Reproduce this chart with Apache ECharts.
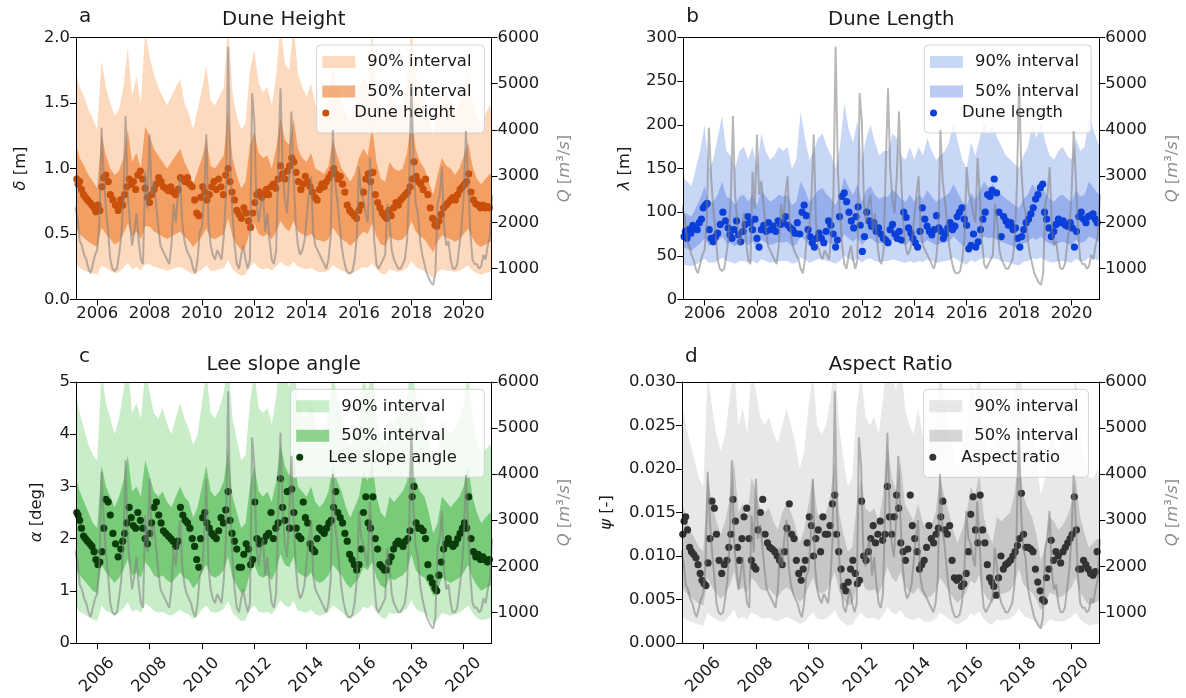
<!DOCTYPE html>
<html><head><meta charset="utf-8">
<script src="https://cdn.jsdelivr.net/npm/echarts@6/dist/echarts.min.js"></script>
<style>html,body{margin:0;padding:0;background:#fff}#c{width:1186px;height:698px}</style>
</head><body><div id="c"></div>
<script>
// ---------------- DATA ----------------
// Discharge Q [m3/s], monthly samples starting Jan 2005
const qStart = 2005.0;
const discharge = [
2200,2400,2300,2100,1600,1500,1300,1200,1000,900,1100,1300,
1400,2000,4050,3000,2300,1800,1200,1000,950,1000,1300,1700,
2500,4300,2600,2000,1500,1800,2200,1600,1200,1100,3100,2300,
3900,2600,2900,2400,1900,1500,1400,1300,1200,1100,1500,2400,
2000,2600,3000,2000,1600,1400,1300,1200,1000,900,1200,1800,
1900,2600,3900,2000,1500,1300,1200,1400,1300,1200,1700,2600,
5800,3200,2200,1500,1100,1000,1300,1500,1200,1000,1200,4800,
4200,2400,2000,2400,2600,1800,2200,1600,1200,1100,1400,3300,
4900,3200,2500,2200,3000,4400,3000,2000,1500,1300,1400,1600,
2100,2600,3000,1800,1500,1400,1300,1200,1100,1000,1200,1700,
4000,2900,2500,2000,1500,1200,1000,900,900,950,1200,1700,
3200,2600,2500,2200,2000,3400,2600,1600,1100,1000,1100,1200,
1300,2400,2000,1400,1200,1100,1000,1000,1100,1200,1600,2800,
5000,3200,2400,2200,1600,1300,1100,900,800,700,650,900,
2400,2600,3200,1900,1500,1600,1200,1000,1000,1100,1500,1900,
2600,3980,2900,1800,1200,1100,1100,1000,1050,1300,1200,1500,
1700,2600];

// Prediction intervals, sampled every two months from Jan 2005
const bandStart = 2005.0;
const heightHi90 = [1.80,1.75,1.62,1.55,1.45,1.38, 1.30,1.82,1.62,1.50,1.40,1.45, 1.62,1.92,1.55,1.70,1.50,2.05, 1.85,1.72,1.62,1.55,1.48,1.55, 1.62,1.68,1.50,1.42,1.30,1.45, 1.60,1.78,1.52,1.48,1.55,1.62, 2.10,1.58,1.40,1.30,1.35,1.75, 1.90,1.65,1.58,1.62,1.48,1.70, 2.10,1.80,1.75,2.10,1.72,1.62, 1.55,1.65,1.48,1.45,1.42,1.52, 1.78,1.62,1.50,1.42,1.35,1.45, 1.60,1.70,1.65,2.05,1.55,1.40, 1.38,1.58,1.50,1.45,1.50,1.68, 2.08,1.72,1.60,1.55,1.40,1.25, 1.45,1.62,1.55,1.50,1.42,1.50, 1.62,1.75,1.52,1.40,1.35,1.42, 1.48,1.45];
const heightHi50 = [1.22,1.20,1.08,1.02,0.95,0.90, 0.85,1.25,1.10,1.00,0.95,0.98, 1.08,1.30,1.05,1.12,1.00,1.32, 1.25,1.15,1.10,1.05,1.00,1.05, 1.10,1.15,1.05,0.98,0.88,0.98, 1.08,1.22,1.02,1.00,1.05,1.10, 1.45,1.08,0.95,0.85,0.90,1.18, 1.28,1.12,1.08,1.10,1.00,1.15, 1.38,1.22,1.18,1.38,1.15,1.08, 1.05,1.12,1.00,0.98,0.96,1.02, 1.22,1.10,1.00,0.95,0.90,0.96, 1.08,1.15,1.10,1.32,1.05,0.92, 0.90,1.05,1.00,0.98,1.00,1.12, 1.38,1.15,1.05,1.00,0.90,0.80, 0.95,1.08,1.02,1.00,0.95,1.00, 1.10,1.20,1.02,0.92,0.88,0.92, 0.96,0.95];
const heightLo50 = [0.55,0.56,0.50,0.47,0.44,0.42, 0.40,0.55,0.50,0.46,0.42,0.44, 0.50,0.58,0.48,0.52,0.46,0.56, 0.56,0.52,0.50,0.48,0.46,0.48, 0.50,0.52,0.48,0.45,0.40,0.44, 0.48,0.54,0.47,0.46,0.48,0.50, 0.62,0.48,0.42,0.38,0.40,0.52, 0.58,0.50,0.48,0.50,0.46,0.52, 0.60,0.55,0.52,0.60,0.52,0.50, 0.48,0.50,0.46,0.45,0.44,0.46, 0.55,0.50,0.46,0.44,0.41,0.44, 0.48,0.52,0.50,0.58,0.48,0.42, 0.41,0.48,0.46,0.45,0.46,0.50, 0.60,0.52,0.48,0.46,0.41,0.36, 0.44,0.49,0.47,0.46,0.44,0.46, 0.50,0.54,0.47,0.42,0.40,0.42, 0.44,0.43];
const heightLo90 = [0.26,0.27,0.24,0.22,0.21,0.20, 0.19,0.26,0.24,0.22,0.20,0.21, 0.24,0.28,0.23,0.25,0.22,0.27, 0.27,0.25,0.24,0.23,0.22,0.23, 0.24,0.25,0.23,0.21,0.19,0.21, 0.23,0.26,0.22,0.22,0.23,0.24, 0.30,0.23,0.20,0.18,0.19,0.25, 0.28,0.24,0.23,0.24,0.22,0.25, 0.29,0.26,0.25,0.29,0.25,0.24, 0.23,0.24,0.22,0.21,0.21,0.22, 0.26,0.24,0.22,0.21,0.19,0.21, 0.23,0.25,0.24,0.28,0.23,0.20, 0.19,0.23,0.22,0.21,0.22,0.24, 0.29,0.25,0.23,0.22,0.19,0.16, 0.21,0.23,0.22,0.22,0.21,0.22, 0.24,0.26,0.22,0.20,0.19,0.20, 0.21,0.21];

const lengthHi90 = [140,140,135,130,150,170, 200,150,160,185,210,170, 165,150,170,175,160,175, 150,190,170,160,165,175, 170,175,150,160,215,185, 160,170,185,190,175,165, 150,175,225,195,180,205, 160,185,200,180,165,170, 170,190,185,165,160,175, 160,175,165,185,170,160, 165,170,180,205,180,160, 150,180,165,185,205,190, 200,185,175,165,160,155, 150,165,175,200,185,205, 180,165,160,170,175,165, 160,185,170,175,210,195, 180,170];
const lengthHi50 = [105,100,98,95,105,115, 130,110,112,120,135,118, 115,108,118,120,112,120, 108,125,118,112,115,120, 118,120,108,112,135,125, 112,118,125,128,120,115, 108,120,140,128,120,132, 112,125,130,120,115,118, 118,125,122,115,112,120, 112,120,115,125,118,112, 115,118,122,132,122,112, 108,122,115,125,135,128, 132,125,120,115,112,108, 105,115,120,132,125,135, 122,115,112,118,120,115, 112,125,118,120,135,128, 122,118];
const lengthLo50 = [62,60,58,56,60,64, 70,62,63,66,72,65, 64,61,65,66,62,66, 61,68,65,62,64,66, 65,66,61,63,72,68, 62,65,68,70,66,64, 61,66,75,70,66,71, 62,68,70,66,64,65, 65,68,67,64,62,66, 62,66,64,68,65,62, 64,65,67,72,67,62, 60,67,64,68,72,70, 71,68,66,64,62,60, 58,64,66,71,68,72, 67,64,62,65,66,64, 62,68,65,66,72,70, 67,65];
const lengthLo90 = [42,40,39,38,40,43, 47,42,42,44,48,44, 43,41,44,44,42,44, 41,46,44,42,43,44, 44,44,41,42,48,46, 42,44,46,47,44,43, 41,44,50,47,44,47, 42,46,47,44,43,44, 44,46,45,43,42,44, 42,44,43,46,44,42, 43,44,45,48,45,42, 40,45,43,46,48,47, 47,46,44,43,42,40, 39,43,44,47,46,48, 45,43,42,44,44,43, 42,46,44,44,48,47, 45,44];

const leeHi90 = [4.9,4.8,4.4,4.1,3.8,3.6, 3.5,5.2,4.6,4.3,4.0,4.3, 4.8,5.3,4.4,4.6,4.3,5.2, 4.8,4.4,4.3,4.5,4.2,4.0, 4.3,4.6,4.3,4.1,3.8,4.0, 4.6,5.2,4.4,4.3,4.5,4.8, 5.4,4.3,3.9,3.5,3.6,4.6, 5.2,4.5,4.4,4.5,4.2,4.7, 5.5,5.2,4.9,5.4,4.6,4.4, 4.3,4.6,4.2,4.0,4.1,4.4, 5.2,4.7,4.4,4.0,3.8,4.0, 4.3,5.1,4.8,5.3,4.3,3.9, 3.8,4.3,4.2,4.4,4.4,4.7, 5.5,4.7,4.5,4.3,3.9,3.3, 3.6,4.3,4.1,4.0,4.1,4.3, 4.6,5.2,4.3,3.9,3.6,3.7, 3.8,3.7];
const leeHi50 = [3.2,3.2,2.9,2.7,2.5,2.3, 2.2,3.4,3.0,2.8,2.6,2.8, 3.1,3.6,2.9,3.0,2.8,3.5, 3.2,2.9,2.8,2.9,2.7,2.6, 2.8,3.0,2.8,2.7,2.4,2.6, 3.0,3.4,2.9,2.8,2.9,3.1, 3.7,2.8,2.5,2.2,2.3,3.0, 3.4,2.9,2.8,2.9,2.7,3.1, 3.8,3.4,3.2,3.7,3.0,2.9, 2.8,3.0,2.7,2.6,2.7,2.9, 3.4,3.1,2.9,2.6,2.4,2.6, 2.8,3.3,3.1,3.5,2.8,2.5, 2.4,2.8,2.7,2.8,2.9,3.1, 3.8,3.1,2.9,2.8,2.5,2.1, 2.3,2.8,2.7,2.6,2.7,2.8, 3.0,3.4,2.8,2.5,2.3,2.4, 2.5,2.4];
const leeLo50 = [1.45,1.45,1.3,1.2,1.1,1.0, 0.95,1.5,1.35,1.25,1.15,1.25, 1.4,1.6,1.3,1.35,1.25,1.55, 1.45,1.3,1.25,1.3,1.2,1.15, 1.25,1.35,1.25,1.2,1.05,1.15, 1.35,1.5,1.3,1.25,1.3,1.4, 1.65,1.25,1.1,0.95,1.0,1.35, 1.5,1.3,1.25,1.3,1.2,1.4, 1.7,1.5,1.45,1.65,1.35,1.3, 1.25,1.35,1.2,1.15,1.2,1.3, 1.5,1.4,1.3,1.15,1.05,1.15, 1.25,1.45,1.4,1.55,1.25,1.1, 1.05,1.25,1.2,1.25,1.3,1.4, 1.7,1.4,1.3,1.25,1.1,0.9, 1.0,1.25,1.2,1.15,1.2,1.25, 1.35,1.5,1.25,1.1,1.0,1.05, 1.1,1.05];
const leeLo90 = [0.7,0.7,0.6,0.55,0.5,0.45, 0.42,0.72,0.62,0.58,0.52,0.58, 0.66,0.78,0.6,0.64,0.58,0.75, 0.7,0.62,0.58,0.6,0.55,0.52, 0.58,0.64,0.58,0.55,0.46,0.52, 0.64,0.72,0.6,0.58,0.6,0.66, 0.8,0.58,0.5,0.42,0.44,0.64, 0.72,0.6,0.58,0.6,0.55,0.66, 0.82,0.72,0.68,0.8,0.62,0.6, 0.58,0.64,0.55,0.52,0.55,0.6, 0.72,0.66,0.6,0.52,0.46,0.52, 0.58,0.7,0.66,0.74,0.58,0.5, 0.46,0.58,0.55,0.58,0.6,0.66, 0.82,0.66,0.6,0.58,0.48,0.35, 0.44,0.58,0.55,0.52,0.55,0.58, 0.64,0.72,0.58,0.48,0.44,0.45, 0.48,0.46];

const aspectHi90 = [0.029,0.028,0.025,0.023,0.021,0.019, 0.018,0.031,0.027,0.024,0.022,0.024, 0.028,0.032,0.025,0.027,0.024,0.031, 0.029,0.026,0.025,0.026,0.024,0.023, 0.025,0.027,0.025,0.023,0.020,0.022, 0.027,0.031,0.025,0.024,0.025,0.028, 0.033,0.025,0.021,0.018,0.019,0.027, 0.031,0.026,0.025,0.026,0.024,0.028, 0.033,0.031,0.029,0.033,0.027,0.025, 0.024,0.027,0.024,0.022,0.023,0.025, 0.031,0.028,0.025,0.022,0.020,0.022, 0.024,0.030,0.028,0.032,0.024,0.021, 0.020,0.024,0.023,0.024,0.025,0.028, 0.033,0.028,0.026,0.024,0.021,0.017, 0.019,0.024,0.023,0.022,0.023,0.024, 0.027,0.031,0.024,0.021,0.019,0.019, 0.020,0.019];
const aspectHi50 = [0.017,0.0165,0.0145,0.013,0.012,0.011, 0.0105,0.019,0.016,0.014,0.0125,0.014, 0.0165,0.021,0.015,0.016,0.014,0.019, 0.0175,0.0155,0.015,0.0155,0.014,0.013, 0.015,0.016,0.015,0.0135,0.0115,0.013, 0.016,0.019,0.015,0.014,0.015,0.017, 0.021,0.015,0.0125,0.0105,0.011,0.016, 0.019,0.0155,0.015,0.0155,0.014,0.017, 0.023,0.019,0.0175,0.021,0.016,0.015, 0.014,0.016,0.014,0.013,0.0135,0.015, 0.019,0.017,0.015,0.013,0.0115,0.013, 0.0145,0.018,0.017,0.0195,0.0145,0.0125, 0.0115,0.0145,0.014,0.0145,0.015,0.017, 0.022,0.017,0.0155,0.0145,0.0125,0.0095, 0.011,0.0145,0.014,0.013,0.0135,0.0145, 0.016,0.019,0.0145,0.0125,0.011,0.0115, 0.012,0.0115];
const aspectLo50 = [0.0068,0.0066,0.0058,0.0053,0.0049,0.0045, 0.0043,0.0075,0.0064,0.0057,0.0051,0.0056, 0.0066,0.0082,0.006,0.0064,0.0057,0.0075, 0.007,0.0062,0.006,0.0062,0.0056,0.0053, 0.006,0.0064,0.006,0.0054,0.0047,0.0052, 0.0064,0.0075,0.006,0.0057,0.006,0.0068, 0.0082,0.006,0.005,0.0043,0.0045,0.0064, 0.0075,0.0062,0.006,0.0062,0.0056,0.0068, 0.0088,0.0075,0.007,0.0082,0.0064,0.006, 0.0056,0.0064,0.0056,0.0052,0.0054,0.006, 0.0075,0.0068,0.006,0.0052,0.0046,0.0052, 0.0058,0.0072,0.0068,0.0078,0.0058,0.005, 0.0046,0.0058,0.0056,0.0058,0.006,0.0068, 0.0086,0.0068,0.0062,0.0058,0.005,0.0038, 0.0044,0.0058,0.0056,0.0052,0.0054,0.0058, 0.0064,0.0075,0.0058,0.005,0.0044,0.0046, 0.0048,0.0046];
const aspectLo90 = [0.0032,0.0031,0.0027,0.0025,0.0023,0.0021, 0.002,0.0035,0.003,0.0027,0.0024,0.0026, 0.0031,0.0038,0.0028,0.003,0.0027,0.0035, 0.0033,0.0029,0.0028,0.0029,0.0026,0.0025, 0.0028,0.003,0.0028,0.0025,0.0022,0.0024, 0.003,0.0035,0.0028,0.0027,0.0028,0.0032, 0.0038,0.0028,0.0023,0.002,0.0021,0.003, 0.0035,0.0029,0.0028,0.0029,0.0026,0.0032, 0.0041,0.0035,0.0033,0.0038,0.003,0.0028, 0.0026,0.003,0.0026,0.0024,0.0025,0.0028, 0.0035,0.0032,0.0028,0.0024,0.0021,0.0024, 0.0027,0.0034,0.0032,0.0036,0.0027,0.0023, 0.0021,0.0027,0.0026,0.0027,0.0028,0.0032, 0.004,0.0032,0.0029,0.0027,0.0023,0.0017, 0.002,0.0027,0.0026,0.0024,0.0025,0.0027, 0.003,0.0035,0.0027,0.0023,0.002,0.0021, 0.0022,0.0021];

// Survey dates (decimal years) and measured dune properties
const surveyTimes = [
2005.22,2005.27,2005.33,2005.40,2005.48,2005.55,2005.63,2005.72,2005.80,2005.88,2005.95,
2006.03,2006.10,2006.18,2006.25,2006.33,2006.42,2006.50,2006.60,2006.70,2006.80,2006.90,2006.97,
2007.05,2007.13,2007.22,2007.30,2007.38,2007.47,2007.55,2007.65,2007.74,2007.83,2007.92,
2008.00,2008.08,2008.17,2008.26,2008.35,2008.44,2008.53,2008.62,2008.72,2008.81,2008.90,
2009.00,2009.09,2009.18,2009.27,2009.36,2009.45,2009.54,2009.63,2009.72,2009.80,2009.88,2009.95,
2010.03,2010.11,2010.19,2010.28,2010.37,2010.46,2010.55,2010.64,2010.73,2010.82,2010.91,
2011.00,2011.07,2011.15,2011.24,2011.33,2011.42,2011.51,2011.60,2011.69,2011.78,2011.86,2011.94,
2012.02,2012.10,2012.19,2012.28,2012.37,2012.46,2012.55,2012.64,2012.73,2012.82,2012.91,
2013.00,2013.08,2013.17,2013.26,2013.35,2013.43,2013.51,2013.60,2013.69,2013.78,2013.87,2013.95,
2014.04,2014.13,2014.22,2014.31,2014.40,2014.49,2014.58,2014.67,2014.76,2014.85,2014.94,
2015.03,2015.11,2015.19,2015.28,2015.37,2015.46,2015.55,2015.64,2015.73,2015.82,2015.91,
2016.00,2016.08,2016.17,2016.26,2016.35,2016.44,2016.53,2016.62,2016.71,2016.80,2016.89,2016.97,
2017.05,2017.14,2017.23,2017.32,2017.41,2017.50,2017.59,2017.68,2017.77,2017.86,2017.95,
2018.03,2018.10,2018.18,2018.27,2018.36,2018.45,2018.54,2018.63,2018.72,2018.81,2018.90,2018.97,
2019.05,2019.14,2019.23,2019.32,2019.41,2019.50,2019.59,2019.68,2019.77,2019.86,2019.95,
2020.03,2020.11,2020.19,2020.28,2020.37,2020.46,2020.55,2020.64,2020.73,2020.82,2020.91,2020.98];

const duneHeight = [
0.92,0.88,0.90,0.84,0.80,0.78,0.76,0.74,0.72,0.70,0.67,
0.72,0.68,0.86,0.93,0.95,0.90,0.80,0.76,0.72,0.68,0.76,0.72,
0.80,0.86,0.92,0.88,0.90,0.84,0.95,0.98,0.92,0.85,0.78,
0.74,0.80,0.84,0.88,0.93,0.90,0.86,0.85,0.83,0.86,0.82,
0.80,0.84,0.93,0.92,0.90,0.93,0.88,0.86,0.76,0.66,0.64,0.78,
0.86,0.82,0.76,0.80,0.86,0.90,0.84,0.92,0.86,0.80,0.95,
1.00,0.90,0.82,0.76,0.68,0.65,0.62,0.70,0.66,0.60,0.55,0.66,
0.74,0.80,0.82,0.78,0.80,0.84,0.80,0.86,0.88,0.85,0.92,
1.02,0.96,0.92,0.98,1.02,1.08,1.05,0.97,0.90,0.84,0.88,0.94,
0.90,0.86,0.82,0.78,0.76,0.84,0.88,0.86,0.90,0.93,0.96,
1.00,0.96,0.92,0.94,0.88,0.82,0.72,0.68,0.66,0.64,0.62,
0.68,0.72,0.82,0.92,0.96,0.90,0.97,0.80,0.74,0.70,0.66,0.64,
0.62,0.68,0.64,0.70,0.74,0.72,0.76,0.78,0.80,0.82,0.86,
0.92,1.05,0.94,0.90,0.88,0.84,0.92,0.80,0.70,0.62,0.57,0.56,
0.60,0.65,0.70,0.72,0.74,0.76,0.78,0.76,0.80,0.84,0.86,
0.88,0.90,0.96,0.82,0.76,0.73,0.72,0.70,0.72,0.70,0.71,0.70];

const duneLength = [
72,78,70,80,76,85,82,80,88,92,105,
108,110,80,70,66,72,76,86,100,90,82,74,
70,80,90,74,66,78,86,95,88,80,92,
70,60,80,85,78,88,80,84,78,90,86,
88,95,85,82,80,76,88,75,100,108,96,80,
72,65,60,70,76,70,65,78,90,85,75,
60,68,95,118,122,112,100,90,82,95,106,85,
55,72,100,90,84,88,78,82,75,70,68,
65,80,86,75,70,78,68,100,94,82,76,70,
65,60,78,105,92,84,78,74,80,96,82,
78,70,75,82,88,80,84,95,100,105,92,
85,58,62,75,60,66,80,92,100,120,118,125,
138,122,100,72,95,90,85,88,80,82,70,
60,72,80,88,92,98,105,115,120,128,132,100,
92,82,72,78,86,92,88,90,85,84,88,
82,60,78,95,100,92,88,95,96,98,92,88];

const leeAngle = [
2.5,2.45,2.35,2.2,2.05,2.0,1.95,1.9,1.85,1.75,1.6,
1.5,1.55,1.75,2.2,2.75,2.7,2.45,2.1,1.9,1.65,1.8,1.95,
2.1,2.3,2.6,2.4,2.25,2.2,2.5,2.35,2.2,2.0,1.9,
2.1,2.3,2.6,2.7,2.45,2.3,2.15,2.1,2.05,2.0,1.95,
1.85,1.95,2.6,2.45,2.35,2.3,2.2,2.0,1.85,1.6,1.45,2.0,
2.4,2.5,2.3,2.2,2.1,2.05,2.0,2.15,2.4,2.3,2.55,
2.9,2.35,2.1,1.95,1.8,1.45,1.45,1.7,1.9,1.8,1.5,1.6,
2.7,2.0,1.9,1.95,1.95,2.05,2.1,2.5,2.0,2.2,2.3,
3.15,2.6,2.35,2.9,2.2,2.95,2.5,2.2,2.05,2.0,2.7,2.4,
2.3,1.9,1.8,1.75,2.0,2.2,2.15,2.1,2.2,2.3,2.35,
2.6,2.9,2.5,2.4,2.3,2.1,1.95,1.7,1.6,1.5,1.4,
1.5,1.8,2.5,2.8,2.3,2.2,2.8,2.0,1.8,1.5,1.45,1.4,
1.4,1.55,1.65,1.8,1.9,1.95,1.9,1.85,1.95,2.0,2.15,
2.8,3.0,2.3,2.2,2.2,2.15,2.0,1.5,1.25,1.15,1.05,1.0,
1.3,1.55,1.8,1.9,2.0,1.9,1.85,1.9,2.0,2.1,2.2,
2.3,2.2,2.8,2.0,1.75,1.65,1.7,1.6,1.65,1.6,1.55,1.6];

const aspectRatio = [
0.0125,0.014,0.0145,0.013,0.011,0.0105,0.0102,0.0098,0.009,0.008,0.0072,
0.0068,0.0066,0.0092,0.012,0.0163,0.0155,0.0125,0.0095,0.008,0.009,0.0095,0.011,
0.0125,0.0165,0.014,0.011,0.0095,0.012,0.0145,0.0155,0.012,0.0095,0.0088,
0.0085,0.013,0.015,0.0165,0.0125,0.0115,0.011,0.0108,0.0105,0.01,0.0095,
0.009,0.0105,0.0132,0.016,0.0125,0.012,0.0095,0.008,0.0072,0.0085,0.0095,0.0115,
0.0145,0.0135,0.01,0.012,0.013,0.0105,0.0145,0.0125,0.0125,0.0135,0.016,
0.017,0.0125,0.0105,0.0085,0.0065,0.006,0.007,0.0085,0.0095,0.008,0.0068,0.0072,
0.0163,0.01,0.0095,0.0105,0.012,0.0135,0.0115,0.0125,0.014,0.0118,0.0125,
0.018,0.0145,0.0125,0.0145,0.017,0.0155,0.0115,0.0105,0.0095,0.0108,0.017,0.0135,
0.012,0.0105,0.0085,0.009,0.0095,0.011,0.0135,0.012,0.0115,0.0125,0.0132,
0.0145,0.0163,0.013,0.0125,0.0135,0.0095,0.0075,0.0072,0.0075,0.0065,0.0068,
0.008,0.0105,0.0148,0.0168,0.013,0.0115,0.017,0.013,0.0115,0.009,0.0075,0.007,
0.0065,0.0055,0.0075,0.01,0.0085,0.009,0.0092,0.0095,0.01,0.0105,0.0112,
0.012,0.0172,0.0125,0.011,0.011,0.0108,0.0105,0.0085,0.007,0.006,0.005,0.0048,
0.0075,0.0085,0.0118,0.0095,0.0105,0.01,0.0092,0.0105,0.011,0.0115,0.012,
0.0125,0.0168,0.013,0.0085,0.0085,0.0095,0.009,0.0085,0.008,0.0078,0.0082,0.0105];

const yearTicks = [2006,2008,2010,2012,2014,2016,2018,2020];
const qTicks = [1000,2000,3000,4000,5000,6000];

// ---------------- CHART ----------------
const FONT = 'DejaVu Sans';
const xMin = 2005.19, xMax = 2021.06;
const qMin = 335, qMax = 6000;

const panels = [
  {key:'a', title:'Dune Height', grid:{left:76, top:37.5, width:415.5, height:262},
   yMin:0, yMax:2, yInt:0.5, fmt:v=>v.toFixed(1), yName:'{i|δ} [m]', nameGap:47,
   hi90:heightHi90, lo90:heightLo90, hi50:heightHi50, lo50:heightLo50, pts:duneHeight,
   c90:'rgba(250,160,90,0.4)', c50:'rgba(236,118,36,0.58)', cPt:'#c8500a', ptLabel:'Dune height',
   rot:0, legLeft:316.6, legTop:45, legRight:13, letterOff:14.2},
  {key:'b', title:'Dune Length', grid:{left:683.3, top:37.5, width:416, height:262},
   yMin:0, yMax:300, yInt:50, fmt:v=>String(v), yName:'{i|λ} [m]', nameGap:51,
   hi90:lengthHi90, lo90:lengthLo90, hi50:lengthHi50, lo50:lengthLo50, pts:duneLength,
   c90:'rgba(100,140,230,0.35)', c50:'rgba(60,100,220,0.35)', cPt:'#0b3fd9', ptLabel:'Dune length',
   rot:0, legLeft:924.3, legTop:45, legRight:12, letterOff:14.2},
  {key:'c', title:'Lee slope angle', grid:{left:76, top:382, width:415.5, height:261},
   yMin:0, yMax:5, yInt:1, fmt:v=>String(v), yName:'{i|α} [deg]', nameGap:31,
   hi90:leeHi90, lo90:leeLo90, hi50:leeHi50, lo50:leeLo50, pts:leeAngle,
   c90:'rgba(100,200,100,0.35)', c50:'rgba(40,170,40,0.5)', cPt:'#0b3d0b', ptLabel:'Lee slope angle',
   rot:45, legLeft:290.5, legTop:389.3, legRight:39, letterOff:18.3},
  {key:'d', title:'Aspect Ratio', grid:{left:682, top:382, width:417.3, height:261},
   yMin:0, yMax:0.03, yInt:0.005, fmt:v=>v.toFixed(3), yName:'{i|ψ} [-]', nameGap:67,
   hi90:aspectHi90, lo90:aspectLo90, hi50:aspectHi50, lo50:aspectLo50, pts:aspectRatio,
   c90:'rgba(150,150,150,0.22)', c50:'rgba(120,120,120,0.3)', cPt:'#333333', ptLabel:'Aspect ratio',
   rot:45, legLeft:923.6, legTop:389.3, legRight:10, letterOff:18.5}
];

const labelMap = {};
panels.forEach(p => { labelMap[p.key+'90'] = '90% interval'; labelMap[p.key+'50'] = '50% interval'; labelMap[p.key+'pts'] = p.ptLabel; });

const bandTimes = heightHi90.map((_, i) => bandStart + i / 6);
const qData = discharge.map((v, i) => [qStart + i / 12, v]);

function bandRenderer(lo, hi, color) {
  return function (params, api) {
    if (params.dataIndex !== 0) return null;
    const up = [], dn = [];
    for (let i = 0; i < bandTimes.length; i++) {
      up.push(api.coord([bandTimes[i], hi[i]]));
      dn.push(api.coord([bandTimes[i], lo[i]]));
    }
    const cs = params.coordSys;
    return {
      type: 'polygon',
      shape: { points: up.concat(dn.reverse()) },
      style: { fill: color },
      clipPath: { type: 'rect', shape: { x: cs.x, y: cs.y, width: cs.width, height: cs.height } }
    };
  };
}

const grids = [], xAxes = [], yAxes = [], series = [], legends = [], graphics = [];
const axisLineStyle = { color: '#000', width: 1 };
const tickLabelStyle = { fontSize: 16.4, color: '#1a1a1a', fontFamily: FONT };

panels.forEach((p, idx) => {
  grids.push(Object.assign({ containLabel: false }, p.grid));
  const xLabel = p.rot
    ? { show: true, margin: 32, rotate: 45, align: 'center', verticalAlign: 'middle' }
    : { show: true, margin: 6, rotate: 0 };
  // bottom x axis
  xAxes.push({ gridIndex: idx, type: 'value', min: xMin, max: xMax, position: 'bottom', z: 10,
    axisLine: { show: true, onZero: false, lineStyle: axisLineStyle },
    axisTick: { show: true, length: 6, customValues: yearTicks, lineStyle: axisLineStyle },
    axisLabel: Object.assign(xLabel, { customValues: yearTicks, formatter: v => String(Math.round(v)) }, tickLabelStyle),
    splitLine: { show: false } });
  // top spine
  xAxes.push({ gridIndex: idx, type: 'value', min: xMin, max: xMax, position: 'top', z: 10,
    axisLine: { show: true, onZero: false, lineStyle: axisLineStyle },
    axisTick: { show: false }, axisLabel: { show: false }, splitLine: { show: false } });
  // left y
  yAxes.push({ gridIndex: idx, type: 'value', min: p.yMin, max: p.yMax, interval: p.yInt, position: 'left', z: 10,
    axisLine: { show: true, onZero: false, lineStyle: axisLineStyle },
    axisTick: { show: true, length: 6, lineStyle: axisLineStyle },
    axisLabel: Object.assign({ margin: 6, formatter: p.fmt }, tickLabelStyle),
    splitLine: { show: false },
    name: p.yName, nameLocation: 'middle', nameRotate: 90, nameGap: p.nameGap,
    nameTextStyle: { fontSize: 16.4, color: '#1a1a1a', fontFamily: FONT,
      rich: { i: { fontStyle: 'italic', fontSize: 16.4, color: '#1a1a1a', fontFamily: FONT } } } });
  // right y (discharge)
  yAxes.push({ gridIndex: idx, type: 'value', min: qMin, max: qMax, position: 'right', z: 10,
    axisLine: { show: true, onZero: false, lineStyle: axisLineStyle },
    axisTick: { show: true, length: 6, customValues: qTicks, lineStyle: axisLineStyle },
    axisLabel: Object.assign({ margin: 6, customValues: qTicks, formatter: v => String(Math.round(v)) }, tickLabelStyle),
    splitLine: { show: false },
    name: '{i|Q} [{i|m}³/{i|s}]', nameLocation: 'middle', nameRotate: 90, nameGap: 65,
    nameTextStyle: { fontSize: 16.4, color: '#8c8c8c', fontFamily: FONT,
      rich: { i: { fontStyle: 'italic', fontSize: 16.4, color: '#8c8c8c', fontFamily: FONT } } } });

  const xi = idx * 2, yl = idx * 2, yr = idx * 2 + 1;
  series.push({ type: 'custom', name: p.key + '90', xAxisIndex: xi, yAxisIndex: yl, z: 1,
    itemStyle: { color: p.c90 }, color: p.c90, silent: true,
    encode: { x: 0, y: [1, 2] },
    data: bandTimes.map((t, i) => [t, p.lo90[i], p.hi90[i]]),
    renderItem: bandRenderer(p.lo90, p.hi90, p.c90) });
  series.push({ type: 'custom', name: p.key + '50', xAxisIndex: xi, yAxisIndex: yl, z: 2,
    itemStyle: { color: p.c50 }, color: p.c50, silent: true,
    encode: { x: 0, y: [1, 2] },
    data: bandTimes.map((t, i) => [t, p.lo50[i], p.hi50[i]]),
    renderItem: bandRenderer(p.lo50, p.hi50, p.c50) });
  series.push({ type: 'scatter', name: p.key + 'pts', xAxisIndex: xi, yAxisIndex: yl, z: 3,
    symbolSize: 7.2, itemStyle: { color: p.cPt, opacity: 1 }, silent: true,
    data: surveyTimes.map((t, i) => [t, p.pts[i]]) });
  series.push({ type: 'line', name: p.key + 'Q', xAxisIndex: xi, yAxisIndex: yr, z: 6,
    showSymbol: false, symbol: 'none', silent: true,
    lineStyle: { color: 'rgba(125,125,125,0.55)', width: 2 },
    data: qData });

  const txtStyle = { fontSize: 16.4, color: '#1a1a1a', fontFamily: FONT, lineHeight: 12, padding: [0, 0, 0, 7] };
  legends.push({ left: p.legLeft, top: p.legTop, orient: 'vertical', itemWidth: 33, itemHeight: 12, itemGap: 13.5,
    padding: [9, p.legRight, 33.5, 5.7], backgroundColor: 'rgba(255,255,255,0.8)', borderColor: '#d3d3d3', borderWidth: 1, borderRadius: 4,
    selectedMode: false, z: 4,
    data: [{ name: p.key + '90', icon: 'rect', itemStyle: { color: p.c90 } }, { name: p.key + '50', icon: 'rect', itemStyle: { color: p.c50 } }],
    formatter: n => labelMap[n], textStyle: txtStyle });
  legends.push({ left: p.legLeft + 5.7, top: p.legTop + 60, orient: 'vertical', itemWidth: 33, itemHeight: 7,
    padding: 0, selectedMode: false, z: 4,
    data: [{ name: p.key + 'pts', icon: 'circle', itemStyle: { color: p.cPt } }],
    formatter: n => labelMap[n], textStyle: txtStyle });

  graphics.push({ type: 'text', x: p.grid.left + p.grid.width / 2, y: p.grid.top - 17.3, z: 20,
    style: { text: p.title, font: '19.7px "DejaVu Sans"', fill: '#1a1a1a', textAlign: 'center', textVerticalAlign: 'middle' } });
  graphics.push({ type: 'text', x: p.grid.left + 3, y: p.grid.top - p.letterOff - 6.9, z: 20,
    style: { text: p.key, font: '20px "DejaVu Sans"', fill: '#1a1a1a', textAlign: 'left', textVerticalAlign: 'middle' } });
});

const chart = echarts.init(document.getElementById('c'));
chart.setOption({
  animation: false,
  backgroundColor: '#fff',
  textStyle: { fontFamily: FONT },
  grid: grids, xAxis: xAxes, yAxis: yAxes, series: series, legend: legends,
  graphic: graphics
});
</script></body></html>
